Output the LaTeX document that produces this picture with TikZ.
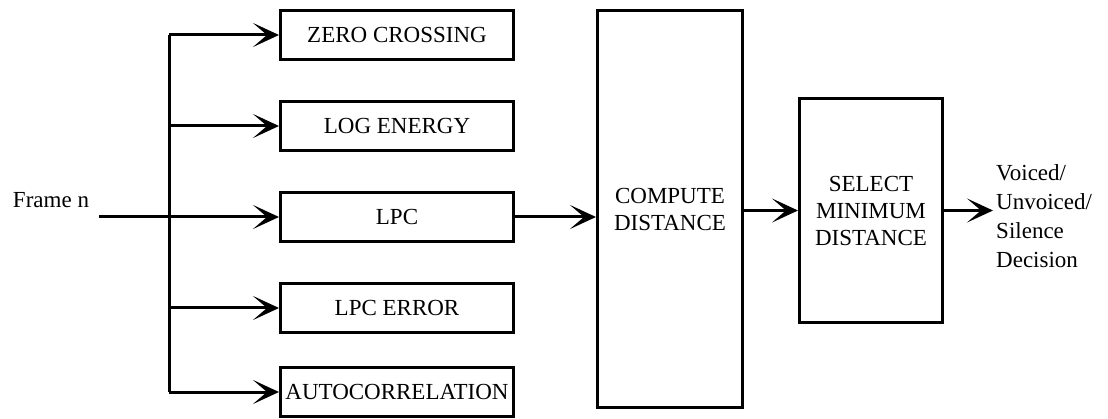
\documentclass[tikz,border=0pt]{standalone}
\usepackage{fontspec}
\setmainfont{Liberation Serif}
\usetikzlibrary{positioning,arrows.meta}
\tikzset{
  feat/.style={draw,line width=3pt,minimum width=233pt,minimum height=49pt,inner sep=0pt},
  blk/.style={draw,line width=3pt,align=center,inner sep=0pt},
  sig/.style={line width=3pt,-{Stealth[length=26pt,width=24pt,inset=14pt]}},
}
\begin{document}
\begin{tikzpicture}[x=1pt,y=-1pt,font=\fontsize{23}{27}\selectfont,node distance=39pt]
  \useasboundingbox (0,0) rectangle (1108,419);
  % feature extractors
  \node[feat] (zc) at (397,35) {ZERO CROSSING};
  \node[feat,below=of zc] (le) {LOG ENERGY};
  \node[feat,below=of le] (lpc) {LPC};
  \node[feat,below=of lpc] (lpce) {LPC ERROR};
  \node[feat,below=32pt of lpce] (ac) {AUTOCORRELATION};
  % decision blocks
  \node[blk,minimum width=145pt,minimum height=397pt] (cd) at (670,209) {COMPUTE\\DISTANCE};
  \node[blk,minimum width=143pt,minimum height=224pt] (sel) at (871,210.5) {SELECT\\MINIMUM\\DISTANCE};
  \node[anchor=west,align=left,inner sep=3pt,font=\fontsize{23}{29}\selectfont] (out) at (993,216)
    {Voiced/\\Unvoiced/\\Silence\\Decision};
  % input
  \node (frame) at (51,200) {Frame n};
  \coordinate (fin) at (99,217);
  \coordinate (bus) at (169,217);
  \draw[line width=3pt] (bus |- zc.west) -- (bus |- ac.west);
  \draw[sig] (fin) -- (lpc.west);
  \draw[sig] (bus |- zc.west) -- (zc.west);
  \draw[sig] (bus |- le.west) -- (le.west);
  \draw[sig] (bus |- lpce.west) -- (lpce.west);
  \draw[sig] (bus |- ac.west) -- (ac.west);
  \draw[sig] (lpc.east) -- (lpc.east -| cd.west);
  \draw[sig] (cd.east |- sel.west) -- (sel.west);
  \draw[sig] (sel.east) -- (sel.east -| out.west);
\end{tikzpicture}
\end{document}
